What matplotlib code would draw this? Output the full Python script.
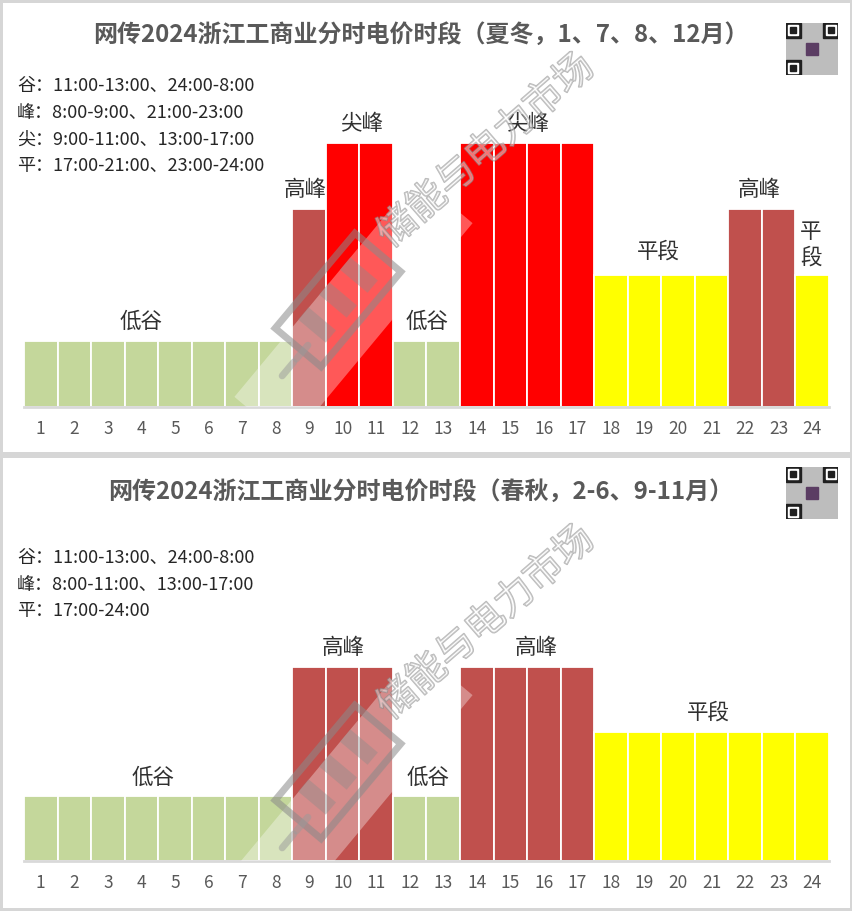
import matplotlib
matplotlib.use("Agg")
import matplotlib.pyplot as plt
from matplotlib.patches import Rectangle, Polygon
import matplotlib.patheffects as pe
import numpy as np

plt.rcParams['font.family'] = ['Noto Sans CJK SC', 'DejaVu Sans']

# ---------------- data ----------------
hours = list(range(1, 25))
tick_labels = [str(h) for h in hours]

summer_title = "网传2024浙江工商业分时电价时段（夏冬，1、7、8、12月）"
summer_notes = ["谷：11:00-13:00、24:00-8:00",
                "峰：8:00-9:00、21:00-23:00",
                "尖：9:00-11:00、13:00-17:00",
                "平：17:00-21:00、23:00-24:00"]
summer_periods = ["谷", "谷", "谷", "谷", "谷", "谷", "谷", "谷",
                  "峰", "尖", "尖", "谷", "谷", "尖", "尖", "尖", "尖",
                  "平", "平", "平", "平", "峰", "峰", "平"]

spring_title = "网传2024浙江工商业分时电价时段（春秋，2-6、9-11月）"
spring_notes = ["谷：11:00-13:00、24:00-8:00",
                "峰：8:00-11:00、13:00-17:00",
                "平：17:00-24:00"]
spring_periods = ["谷", "谷", "谷", "谷", "谷", "谷", "谷", "谷",
                  "峰", "峰", "峰", "谷", "谷", "峰", "峰", "峰", "峰",
                  "平", "平", "平", "平", "平", "平", "平"]

period_level = {"谷": 1, "平": 2, "峰": 3, "尖": 4}
period_color = {"谷": "#c4d79b", "平": "#ffff00", "峰": "#c0504d", "尖": "#ff0000"}
period_name = {"谷": "低谷", "平": "平段", "峰": "高峰", "尖": "尖峰"}

W, H = 853, 911
fig = plt.figure(figsize=(W / 100, H / 100), dpi=100)
fig.patch.set_facecolor("#d6d6d6")

def fx(x):
    return x / W

def fy(y):
    return 1 - y / H

def px_rect(x0, y0, x1, y1):
    return [fx(x0), fy(y1), (x1 - x0) / W, (y1 - y0) / H]

TXT = "#595959"
LAB = "#303030"


def draw_qr(x0, y0, size):
    ax = fig.add_axes(px_rect(x0, y0, x0 + size, y0 + size))
    ax.set_xlim(0, 25); ax.set_ylim(25, 0); ax.axis("off")
    ax.add_patch(Rectangle((0, 0), 25, 25, color="#bdbdbd"))
    for (cx, cy) in [(0, 0), (18, 0), (0, 18)]:
        ax.add_patch(Rectangle((cx, cy), 7, 7, color="#202020"))
        ax.add_patch(Rectangle((cx + 1, cy + 1), 5, 5, color="white"))
        ax.add_patch(Rectangle((cx + 2, cy + 2), 3, 3, color="#202020"))
    ax.add_patch(Rectangle((9.5, 9.5), 6, 6, color="#5b3d63"))


def watermark(oy, base):
    # translucent band + logo + hollow text
    ax = fig.add_axes([0, 0, 1, 1], zorder=5)
    ax.set_xlim(0, W); ax.set_ylim(H, 0); ax.axis("off")
    ax.patch.set_alpha(0)
    clip = Rectangle((0, 0), W, base, transform=ax.transData)
    ang = np.deg2rad(50)
    d = np.array([np.cos(ang), -np.sin(ang)])
    n = np.array([np.sin(ang), np.cos(ang)])
    p0 = np.array([262, 420 + oy]); p1 = np.array([445, 200 + oy])
    hw = 36
    band = [p0 + n * hw, p1 + n * hw, p1 - n * hw, p0 - n * hw]
    bp = Polygon(band, closed=True, facecolor="white", alpha=0.35, lw=0)
    ax.add_patch(bp)
    bp.set_clip_path(clip)
    c = np.array([338, 300 + oy])
    L, Wd = 62, 30
    batt = [c - d * L + n * Wd, c + d * L + n * Wd, c + d * L - n * Wd, c - d * L - n * Wd]
    ax.add_patch(Polygon(batt, closed=True, facecolor="none", edgecolor="#8a8a8a",
                         lw=5, alpha=0.55))
    for k in (-0.35, 0.0, 0.35):
        q = c + d * (k * 2 * L * 0.75)
        seg = [q + n * Wd * 0.6 - d * 8, q + n * Wd * 0.6 + d * 8,
               q - n * Wd * 0.6 + d * 8, q - n * Wd * 0.6 - d * 8]
        ax.add_patch(Polygon(seg, closed=True, facecolor="#8a8a8a", alpha=0.4, lw=0))
    for k in (0.0, 1.0):
        s = c - d * (L + 10 + 22 * k) + n * 6
        ax.plot([s[0], (s + d * 18)[0]], [s[1], (s + d * 18)[1]], color="#9a9a9a",
                lw=5, alpha=0.5, solid_capstyle="round")
    ax.text(486, 151 + oy, "储能与电力市场", rotation=41, ha="center", va="center",
            fontsize=28, color=(1, 1, 1, 0.25),
            path_effects=[pe.withStroke(linewidth=1.2, foreground=(0.55, 0.55, 0.55, 0.6))])


def panel(y_top, y_bot, title, title_y, notes, notes_y0, periods, baseline, unit,
          labels):
    pax = fig.add_axes(px_rect(3, y_top, 850, y_bot), zorder=0)
    pax.set_xticks([]); pax.set_yticks([])
    pax.set_facecolor("white")
    for s in pax.spines.values():
        s.set_visible(False)

    fig.text(fx(421), fy(title_y), title, ha="center", va="center",
             fontsize=17.3, color=TXT, fontweight="bold")
    for i, t in enumerate(notes):
        fig.text(fx(17), fy(notes_y0 + 26.7 * i), t, ha="left", va="center",
                 fontsize=13, color="#262626")

    top_px = baseline - 300
    ax = fig.add_axes(px_rect(24, top_px, 829, baseline), zorder=2)
    ax.patch.set_alpha(0)
    ax.set_xlim(0.5, 24.5)
    ax.set_ylim(0, (baseline - top_px) / unit)
    heights = [period_level[p] for p in periods]
    colors = [period_color[p] for p in periods]
    ax.bar(hours, heights, width=1.0, color=colors, edgecolor="white", linewidth=1.3,
           zorder=2)
    for s in ["top", "left", "right"]:
        ax.spines[s].set_visible(False)
    ax.spines["bottom"].set_color("#d9d9d9")
    ax.spines["bottom"].set_linewidth(2)
    ax.set_yticks([])
    ax.set_xticks(hours)
    ax.set_xticklabels(tick_labels, fontsize=12.5, color=TXT)
    ax.tick_params(axis="x", length=0, pad=9)
    for (txt, x, y) in labels:
        ax.text(x, y, txt, ha="center", va="center", fontsize=15.5, color=LAB,
                linespacing=1.25, zorder=3)
    return ax


off = 0.29
summer_labels = [
    (period_name["谷"], 3.99, period_level["谷"] + off),
    (period_name["峰"], 8.88, period_level["峰"] + off),
    (period_name["尖"], 10.58, period_level["尖"] + off),
    (period_name["谷"], 12.52, period_level["谷"] + off),
    (period_name["尖"], 15.53, period_level["尖"] + off),
    (period_name["平"], 19.4, period_level["平"] + off + 0.06),
    (period_name["峰"], 22.41, period_level["峰"] + off),
    ("平\n段", 23.96, period_level["平"] + 0.46),
]
spring_labels = [
    (period_name["谷"], 4.35, period_level["谷"] + off),
    (period_name["峰"], 10.01, period_level["峰"] + off),
    (period_name["谷"], 12.55, period_level["谷"] + off),
    (period_name["峰"], 15.77, period_level["峰"] + off),
    (period_name["平"], 20.9, period_level["平"] + off),
]

panel(3, 452, summer_title, 35, summer_notes, 86, summer_periods, 407, 66.0,
      summer_labels)
panel(458, 908, spring_title, 492, spring_notes, 558, spring_periods, 861, 64.7,
      spring_labels)

draw_qr(786, 23, 52)
draw_qr(786, 467, 52)
watermark(0, 407)
watermark(472, 861)

fig.savefig("out.png", dpi=100, facecolor=fig.get_facecolor())
